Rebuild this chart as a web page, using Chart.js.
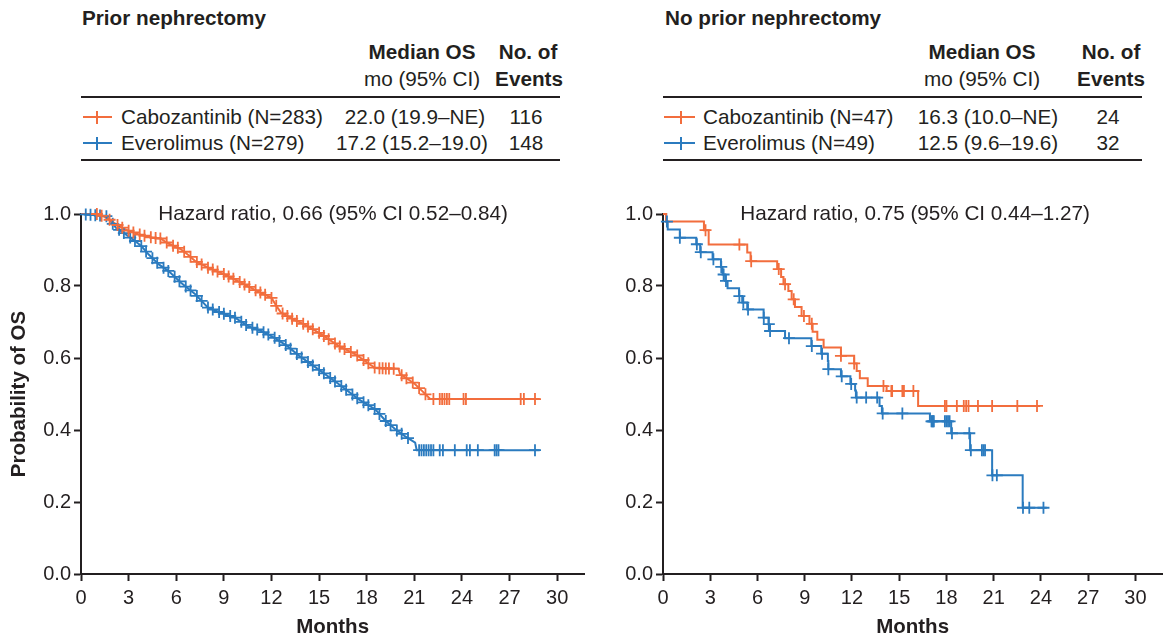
<!DOCTYPE html>
<html><head><meta charset="utf-8">
<script src="https://cdn.jsdelivr.net/npm/chart.js@4.4.0/dist/chart.umd.min.js"></script>
<style>
html,body{margin:0;padding:0;background:#fff;}
body{width:1170px;height:637px;position:relative;overflow:hidden;font-family:"Liberation Sans",Arial,Helvetica,sans-serif;color:#231f20;}
.t{position:absolute;white-space:nowrap;line-height:1;font-size:20.7px;z-index:2;}
.b{font-weight:bold;}
.c{transform:translate(-50%,-50%);}
.l{transform:translate(0,-50%);}
.rule{position:absolute;height:2px;background:#231f20;}
.lh{position:absolute;height:2px;}
.lv{position:absolute;width:2px;height:13px;}
canvas{position:absolute;}
</style></head>
<body>
<div class="t b l" style="left:82px;top:18px">Prior nephrectomy</div>
<div class="t b c" style="left:422px;top:52px">Median OS</div>
<div class="t b c" style="left:528px;top:52px">No. of</div>
<div class="t c" style="left:422px;top:79px">mo (95% CI)</div>
<div class="t b c" style="left:529px;top:79px">Events</div>
<div class="rule" style="left:81px;top:96px;width:479px"></div>
<div class="lh" style="left:83px;top:116px;width:29px;background:#f26d3d"></div>
<div class="lv" style="left:96px;top:111px;background:#f26d3d"></div>
<div class="t l" style="left:121px;top:117px">Cabozantinib (N=283)</div>
<div class="t c" style="left:415px;top:117px">22.0 (19.9–NE)</div>
<div class="t c" style="left:526px;top:117px">116</div>
<div class="lh" style="left:83px;top:142px;width:29px;background:#2b7bbf"></div>
<div class="lv" style="left:96px;top:137px;background:#2b7bbf"></div>
<div class="t l" style="left:121px;top:143px">Everolimus (N=279)</div>
<div class="t c" style="left:412px;top:143px">17.2 (15.2–19.0)</div>
<div class="t c" style="left:526px;top:143px">148</div>
<div class="rule" style="left:81px;top:159px;width:479px"></div>

<div class="t b l" style="left:665px;top:18px">No prior nephrectomy</div>
<div class="t b c" style="left:982px;top:52px">Median OS</div>
<div class="t b c" style="left:1111px;top:52px">No. of</div>
<div class="t c" style="left:982px;top:79px">mo (95% CI)</div>
<div class="t b c" style="left:1111px;top:79px">Events</div>
<div class="rule" style="left:663px;top:96px;width:479px"></div>
<div class="lh" style="left:664px;top:116px;width:31px;background:#f26d3d"></div>
<div class="lv" style="left:680px;top:111px;background:#f26d3d"></div>
<div class="t l" style="left:703px;top:117px">Cabozantinib (N=47)</div>
<div class="t c" style="left:988px;top:117px">16.3 (10.0–NE)</div>
<div class="t c" style="left:1108px;top:117px">24</div>
<div class="lh" style="left:664px;top:142px;width:31px;background:#2b7bbf"></div>
<div class="lv" style="left:680px;top:137px;background:#2b7bbf"></div>
<div class="t l" style="left:703px;top:143px">Everolimus (N=49)</div>
<div class="t c" style="left:988px;top:143px">12.5 (9.6–19.6)</div>
<div class="t c" style="left:1108px;top:143px">32</div>
<div class="rule" style="left:663px;top:159px;width:479px"></div>

<div class="t c" style="left:333px;top:213px">Hazard ratio, 0.66 (95% CI 0.52–0.84)</div>
<div class="t c" style="left:915px;top:213px">Hazard ratio, 0.75 (95% CI 0.44–1.27)</div>

<canvas id="cL" width="592" height="447" style="left:0;top:190px"></canvas>
<canvas id="cR" width="578" height="447" style="left:592px;top:190px"></canvas>

<script>
// ---- data ----
const monthTicks = [0,3,6,9,12,15,18,21,24,27,30];
const probTicks = [0,0.2,0.4,0.6,0.8,1.0];

// Prior nephrectomy
const caboPriorT = [0,1.0,1.6,2.2,2.8,3.6,4.5,5.0,5.5,6.3,6.8,7.2,8.0,9.0,10.1,11.1,12.0,12.3,12.6,13.4,14.0,15.0,16.25,17.3,18.2,18.55,20.0,20.1,20.6,21.05,21.5,22.0,28.9];
const caboPriorS = [1.0,1.0,0.99,0.972,0.957,0.944,0.934,0.932,0.918,0.902,0.885,0.869,0.851,0.833,0.809,0.786,0.767,0.745,0.726,0.707,0.695,0.670,0.633,0.610,0.582,0.572,0.570,0.555,0.541,0.527,0.508,0.486,0.486];
const caboPriorCensor = [1.0,1.3,1.8,2.3,2.6,3.0,3.3,3.7,4.0,4.4,4.7,5.0,5.4,5.8,6.1,6.5,6.9,7.3,7.6,8.0,8.3,8.6,9.0,9.3,9.6,10.0,10.3,10.6,11.0,11.3,11.6,12.0,12.3,12.7,13.0,13.3,13.6,14.0,14.3,14.6,15.0,15.3,15.6,16.0,16.3,16.6,17.0,17.4,17.8,18.1,18.5,18.8,19.0,19.2,19.4,19.7,20.2,20.5,20.9,21.3,21.7,22.2,22.6,22.75,22.9,23.05,23.2,24.1,24.25,27.7,27.9,28.6];

const everPriorT = [0,1.6,2.2,2.8,3.4,3.8,4.25,4.9,5.5,6.3,7.2,8.0,8.8,9.7,10.5,11.35,12.2,13.0,13.75,15.0,16.25,17.5,18.55,19.2,19.8,20.4,21.05,21.15,28.9];
const everPriorS = [1.0,0.994,0.962,0.944,0.925,0.911,0.888,0.86,0.842,0.809,0.777,0.74,0.726,0.712,0.689,0.675,0.656,0.633,0.606,0.567,0.527,0.485,0.457,0.425,0.402,0.383,0.365,0.344,0.344];
const everPriorCensor = [0.3,0.6,0.9,1.2,1.6,2.0,2.4,2.7,3.1,3.4,3.8,4.1,4.5,4.8,5.2,5.5,5.9,6.2,6.6,6.9,7.3,7.6,8.0,8.3,8.7,9.0,9.4,9.7,10.1,10.4,10.8,11.1,11.5,11.8,12.2,12.5,12.9,13.2,13.6,13.9,14.3,14.6,15.0,15.3,15.7,16.0,16.4,16.7,17.1,17.4,17.8,18.1,18.5,18.8,19.2,19.5,19.9,20.2,20.6,21.3,21.45,21.6,21.75,21.9,22.05,22.2,22.6,22.8,23.55,24.3,24.5,25.0,26.06,26.18,26.3,28.6];

// No prior nephrectomy
const caboNoT = [0,0.2,2.6,2.9,5.35,5.56,7.25,7.5,7.65,7.96,8.17,8.38,8.8,9.3,9.5,9.8,10.2,11.3,12.14,12.3,12.5,13.0,14.2,16.2,23.95];
const caboNoS = [1.0,0.979,0.955,0.915,0.893,0.869,0.847,0.825,0.805,0.786,0.763,0.742,0.717,0.695,0.673,0.651,0.629,0.606,0.585,0.564,0.544,0.522,0.508,0.467,0.467];
const caboNoCensor = [2.7,4.85,5.6,7.35,7.75,8.3,8.95,9.45,11.3,12.14,14.0,14.5,14.55,15.2,15.3,15.9,17.9,18.0,18.66,19.1,19.25,19.4,20.0,20.9,22.5,23.75];

const everNoT = [0,0.2,0.3,1.07,2.11,2.36,3.15,3.68,3.78,3.95,4.1,4.83,5.03,5.35,6.39,6.7,6.75,7.75,9.42,10.05,10.47,10.5,11.3,11.9,12.2,12.25,13.75,13.9,16.95,18.3,19.5,20.9,22.84,24.37];
const everNoS = [1.0,0.979,0.957,0.934,0.916,0.894,0.874,0.853,0.832,0.814,0.794,0.772,0.754,0.735,0.712,0.694,0.675,0.655,0.633,0.612,0.592,0.569,0.549,0.528,0.51,0.49,0.467,0.446,0.424,0.391,0.344,0.274,0.184,0.184];
const everNoCensor = [0.25,1.07,2.15,2.4,3.2,3.7,3.85,4.0,4.85,5.1,5.4,6.4,6.72,6.8,8.0,9.45,10.1,10.5,11.35,11.95,12.3,12.9,13.6,13.95,15.2,17.05,17.1,17.15,17.2,17.9,18.0,18.1,18.2,18.35,19.45,19.55,20.25,20.35,20.45,20.92,21.2,22.86,23.26,24.16];

// ---- drawing ----
const ORANGE = '#f26d3d', BLUE = '#2b7bbf', INK = '#231f20';
Chart.defaults.font.family = '"Liberation Sans", Arial, Helvetica, sans-serif';
Chart.defaults.color = INK;

function pts(T,S){ return T.map((t,i)=>({x:t,y:S[i]})); }
function valueAt(T,S,t,stepped){
  if (stepped){ let v=S[0]; for(let i=0;i<T.length;i++){ if(T[i]<=t+1e-9) v=S[i]; else break; } return v; }
  for(let i=1;i<T.length;i++){ if(t<=T[i]){ const f=(t-T[i-1])/(T[i]-T[i-1]); return S[i-1]+f*(S[i]-S[i-1]); } }
  return S[S.length-1];
}
function censorPts(T,S,C,stepped){ return C.map(t=>({x:t,y:valueAt(T,S,t,stepped)})); }

function curveSets(T,S,C,color,stepped){
  return [
    {type:'line',data:pts(T,S),borderColor:color,borderWidth:2,pointRadius:0,stepped:stepped?'before':false,tension:0,clip:false,order:2},
    {type:'scatter',data:censorPts(T,S,C,stepped),borderColor:color,backgroundColor:color,pointStyle:'cross',pointRadius:6,pointBorderWidth:1.8,clip:false,order:1}
  ];
}

function scales(yWidth, showYTitle){
  const grid = {display:true,drawOnChartArea:false,drawTicks:true,tickLength:7,tickWidth:2,tickColor:INK};
  const border = {display:true,color:INK,width:2};
  return {
    x:{type:'linear',min:0,max:31.7,
      afterBuildTicks:s=>{ s.ticks = monthTicks.map(v=>({value:v})); },
      afterFit:s=>{ s.height = 63; },
      ticks:{font:{size:20},color:INK,padding:5,maxRotation:0,autoSkip:false,callback:v=>String(v)},
      grid:grid,border:border,
      title:{display:true,text:'Months',font:{size:20.5,weight:'bold'},color:INK,padding:{top:0,bottom:-3}}
    },
    y:{type:'linear',min:0,max:1,
      afterBuildTicks:s=>{ s.ticks = probTicks.map(v=>({value:v})); },
      afterFit:s=>{ s.width = yWidth; },
      ticks:{font:{size:20},color:INK,padding:3,callback:v=>Number(v).toFixed(1)},
      grid:grid,border:border,
      title:{display:showYTitle,text:'Probability of OS',font:{size:20.5,weight:'bold'},color:INK,padding:{top:7,bottom:0}}
    }
  };
}

function makeChart(id, datasets, yWidth, showYTitle, rightPad){
  return new Chart(document.getElementById(id), {
    type:'line',
    data:{datasets:datasets},
    options:{
      responsive:false,animation:false,devicePixelRatio:1,
      layout:{padding:{top:24,right:rightPad,left:0,bottom:0}},
      plugins:{legend:{display:false},tooltip:{enabled:false}},
      scales:scales(yWidth, showYTitle)
    }
  });
}

makeChart('cL', [
  ...curveSets(caboPriorT,caboPriorS,caboPriorCensor,ORANGE,false),
  ...curveSets(everPriorT,everPriorS,everPriorCensor,BLUE,false)
], 81, true, 4);

makeChart('cR', [
  ...curveSets(caboNoT,caboNoS,caboNoCensor,ORANGE,true),
  ...curveSets(everNoT,everNoS,everNoCensor,BLUE,true)
], 71, false, 2);
</script>
</body></html>
